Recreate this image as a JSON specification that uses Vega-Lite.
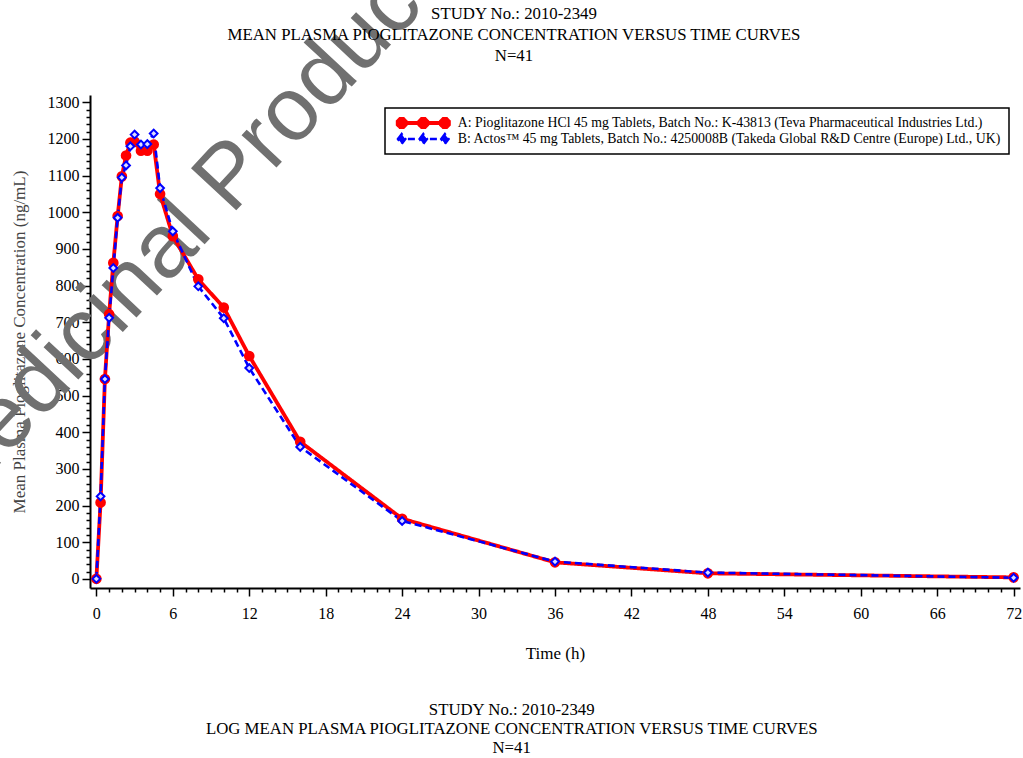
{
  "$schema": "https://vega.github.io/schema/vega-lite/v6.json",
  "width": 930,
  "height": 493,
  "autosize": {"type": "none"},
  "padding": {"left": 90, "top": 95, "right": 3, "bottom": 170},
  "background": "white",
  "config": {"view": {"stroke": null}, "font": "Liberation Serif"},
  "datasets": {
    "pk": [
      {"treatment": "A: Pioglitazone HCl 45 mg Tablets, Batch No.: K-43813 (Teva Pharmaceutical Industries Ltd.)", "time": 0, "conc": 0},
      {"treatment": "A: Pioglitazone HCl 45 mg Tablets, Batch No.: K-43813 (Teva Pharmaceutical Industries Ltd.)", "time": 0.33, "conc": 208},
      {"treatment": "A: Pioglitazone HCl 45 mg Tablets, Batch No.: K-43813 (Teva Pharmaceutical Industries Ltd.)", "time": 0.67, "conc": 545},
      {"treatment": "A: Pioglitazone HCl 45 mg Tablets, Batch No.: K-43813 (Teva Pharmaceutical Industries Ltd.)", "time": 1, "conc": 722},
      {"treatment": "A: Pioglitazone HCl 45 mg Tablets, Batch No.: K-43813 (Teva Pharmaceutical Industries Ltd.)", "time": 1.33, "conc": 862},
      {"treatment": "A: Pioglitazone HCl 45 mg Tablets, Batch No.: K-43813 (Teva Pharmaceutical Industries Ltd.)", "time": 1.67, "conc": 990},
      {"treatment": "A: Pioglitazone HCl 45 mg Tablets, Batch No.: K-43813 (Teva Pharmaceutical Industries Ltd.)", "time": 2, "conc": 1098},
      {"treatment": "A: Pioglitazone HCl 45 mg Tablets, Batch No.: K-43813 (Teva Pharmaceutical Industries Ltd.)", "time": 2.33, "conc": 1155},
      {"treatment": "A: Pioglitazone HCl 45 mg Tablets, Batch No.: K-43813 (Teva Pharmaceutical Industries Ltd.)", "time": 2.67, "conc": 1190},
      {"treatment": "A: Pioglitazone HCl 45 mg Tablets, Batch No.: K-43813 (Teva Pharmaceutical Industries Ltd.)", "time": 3, "conc": 1192},
      {"treatment": "A: Pioglitazone HCl 45 mg Tablets, Batch No.: K-43813 (Teva Pharmaceutical Industries Ltd.)", "time": 3.5, "conc": 1168},
      {"treatment": "A: Pioglitazone HCl 45 mg Tablets, Batch No.: K-43813 (Teva Pharmaceutical Industries Ltd.)", "time": 4, "conc": 1168},
      {"treatment": "A: Pioglitazone HCl 45 mg Tablets, Batch No.: K-43813 (Teva Pharmaceutical Industries Ltd.)", "time": 4.5, "conc": 1185},
      {"treatment": "A: Pioglitazone HCl 45 mg Tablets, Batch No.: K-43813 (Teva Pharmaceutical Industries Ltd.)", "time": 5, "conc": 1050},
      {"treatment": "A: Pioglitazone HCl 45 mg Tablets, Batch No.: K-43813 (Teva Pharmaceutical Industries Ltd.)", "time": 6, "conc": 935},
      {"treatment": "A: Pioglitazone HCl 45 mg Tablets, Batch No.: K-43813 (Teva Pharmaceutical Industries Ltd.)", "time": 8, "conc": 817},
      {"treatment": "A: Pioglitazone HCl 45 mg Tablets, Batch No.: K-43813 (Teva Pharmaceutical Industries Ltd.)", "time": 10, "conc": 740},
      {"treatment": "A: Pioglitazone HCl 45 mg Tablets, Batch No.: K-43813 (Teva Pharmaceutical Industries Ltd.)", "time": 12, "conc": 608},
      {"treatment": "A: Pioglitazone HCl 45 mg Tablets, Batch No.: K-43813 (Teva Pharmaceutical Industries Ltd.)", "time": 16, "conc": 374},
      {"treatment": "A: Pioglitazone HCl 45 mg Tablets, Batch No.: K-43813 (Teva Pharmaceutical Industries Ltd.)", "time": 24, "conc": 164},
      {"treatment": "A: Pioglitazone HCl 45 mg Tablets, Batch No.: K-43813 (Teva Pharmaceutical Industries Ltd.)", "time": 36, "conc": 45},
      {"treatment": "A: Pioglitazone HCl 45 mg Tablets, Batch No.: K-43813 (Teva Pharmaceutical Industries Ltd.)", "time": 48, "conc": 15},
      {"treatment": "A: Pioglitazone HCl 45 mg Tablets, Batch No.: K-43813 (Teva Pharmaceutical Industries Ltd.)", "time": 72, "conc": 4},
      {"treatment": "B: Actos™ 45 mg Tablets, Batch No.: 4250008B (Takeda Global R&D Centre (Europe) Ltd., UK)", "time": 0, "conc": 0},
      {"treatment": "B: Actos™ 45 mg Tablets, Batch No.: 4250008B (Takeda Global R&D Centre (Europe) Ltd., UK)", "time": 0.33, "conc": 225},
      {"treatment": "B: Actos™ 45 mg Tablets, Batch No.: 4250008B (Takeda Global R&D Centre (Europe) Ltd., UK)", "time": 0.67, "conc": 545},
      {"treatment": "B: Actos™ 45 mg Tablets, Batch No.: 4250008B (Takeda Global R&D Centre (Europe) Ltd., UK)", "time": 1, "conc": 712},
      {"treatment": "B: Actos™ 45 mg Tablets, Batch No.: 4250008B (Takeda Global R&D Centre (Europe) Ltd., UK)", "time": 1.33, "conc": 848},
      {"treatment": "B: Actos™ 45 mg Tablets, Batch No.: 4250008B (Takeda Global R&D Centre (Europe) Ltd., UK)", "time": 1.67, "conc": 985},
      {"treatment": "B: Actos™ 45 mg Tablets, Batch No.: 4250008B (Takeda Global R&D Centre (Europe) Ltd., UK)", "time": 2, "conc": 1095},
      {"treatment": "B: Actos™ 45 mg Tablets, Batch No.: 4250008B (Takeda Global R&D Centre (Europe) Ltd., UK)", "time": 2.33, "conc": 1128},
      {"treatment": "B: Actos™ 45 mg Tablets, Batch No.: 4250008B (Takeda Global R&D Centre (Europe) Ltd., UK)", "time": 2.67, "conc": 1180},
      {"treatment": "B: Actos™ 45 mg Tablets, Batch No.: 4250008B (Takeda Global R&D Centre (Europe) Ltd., UK)", "time": 3, "conc": 1212},
      {"treatment": "B: Actos™ 45 mg Tablets, Batch No.: 4250008B (Takeda Global R&D Centre (Europe) Ltd., UK)", "time": 3.5, "conc": 1185},
      {"treatment": "B: Actos™ 45 mg Tablets, Batch No.: 4250008B (Takeda Global R&D Centre (Europe) Ltd., UK)", "time": 4, "conc": 1186},
      {"treatment": "B: Actos™ 45 mg Tablets, Batch No.: 4250008B (Takeda Global R&D Centre (Europe) Ltd., UK)", "time": 4.5, "conc": 1215},
      {"treatment": "B: Actos™ 45 mg Tablets, Batch No.: 4250008B (Takeda Global R&D Centre (Europe) Ltd., UK)", "time": 5, "conc": 1066},
      {"treatment": "B: Actos™ 45 mg Tablets, Batch No.: 4250008B (Takeda Global R&D Centre (Europe) Ltd., UK)", "time": 6, "conc": 948},
      {"treatment": "B: Actos™ 45 mg Tablets, Batch No.: 4250008B (Takeda Global R&D Centre (Europe) Ltd., UK)", "time": 8, "conc": 798},
      {"treatment": "B: Actos™ 45 mg Tablets, Batch No.: 4250008B (Takeda Global R&D Centre (Europe) Ltd., UK)", "time": 10, "conc": 711},
      {"treatment": "B: Actos™ 45 mg Tablets, Batch No.: 4250008B (Takeda Global R&D Centre (Europe) Ltd., UK)", "time": 12, "conc": 575},
      {"treatment": "B: Actos™ 45 mg Tablets, Batch No.: 4250008B (Takeda Global R&D Centre (Europe) Ltd., UK)", "time": 16, "conc": 360},
      {"treatment": "B: Actos™ 45 mg Tablets, Batch No.: 4250008B (Takeda Global R&D Centre (Europe) Ltd., UK)", "time": 24, "conc": 158},
      {"treatment": "B: Actos™ 45 mg Tablets, Batch No.: 4250008B (Takeda Global R&D Centre (Europe) Ltd., UK)", "time": 36, "conc": 47},
      {"treatment": "B: Actos™ 45 mg Tablets, Batch No.: 4250008B (Takeda Global R&D Centre (Europe) Ltd., UK)", "time": 48, "conc": 17},
      {"treatment": "B: Actos™ 45 mg Tablets, Batch No.: 4250008B (Takeda Global R&D Centre (Europe) Ltd., UK)", "time": 72, "conc": 3}
    ],
    "notes": [
      {"header": ["STUDY No.: 2010-2349", "MEAN PLASMA PIOGLITAZONE CONCENTRATION VERSUS TIME CURVES", "N=41"],
       "footer": ["STUDY No.: 2010-2349", "LOG MEAN PLASMA PIOGLITAZONE CONCENTRATION VERSUS TIME CURVES", "N=41"],
       "mark": "Medicinal Product no longer authorised"}
    ]
  },
  "layer": [
    {
      "data": {"name": "notes"},
      "mark": {"type": "text", "align": "left", "baseline": "alphabetic", "angle": -47, "font": "Liberation Sans", "fontSize": 90, "color": "#707070"},
      "encoding": {
        "x": {
          "datum": -11.1, "type": "quantitative",
          "scale": {"domain": [-0.5, 72.5], "nice": false, "zero": false},
          "axis": {
            "title": "Time (h)",
            "values": [0,1,2,3,4,5,6,7,8,9,10,11,12,13,14,15,16,17,18,19,20,21,22,23,24,25,26,27,28,29,30,31,32,33,34,35,36,37,38,39,40,41,42,43,44,45,46,47,48,49,50,51,52,53,54,55,56,57,58,59,60,61,62,63,64,65,66,67,68,69,70,71,72],
            "labelExpr": "datum.value % 6 === 0 ? datum.label : ''",
            "tickSize": {"condition": {"test": "datum.value % 6 === 0", "value": 8}, "value": 4},
            "grid": false, "domainColor": "black", "domainWidth": 2, "tickColor": "black", "tickWidth": 1.5,
            "labelFont": "Liberation Serif", "labelFontSize": 16, "labelColor": "black", "labelPadding": 9,
            "labelOverlap": false, "labelFlush": false,
            "titleFont": "Liberation Serif", "titleFontSize": 17, "titleFontWeight": "normal", "titleColor": "black", "titlePadding": 24
          }
        },
        "y": {
          "datum": 182, "type": "quantitative",
          "scale": {"domain": [-25, 1320], "nice": false, "zero": false},
          "axis": {
            "title": "Mean Plasma Pioglitazone Concentration (ng/mL)",
            "values": [0,20,40,60,80,100,120,140,160,180,200,220,240,260,280,300,320,340,360,380,400,420,440,460,480,500,520,540,560,580,600,620,640,660,680,700,720,740,760,780,800,820,840,860,880,900,920,940,960,980,1000,1020,1040,1060,1080,1100,1120,1140,1160,1180,1200,1220,1240,1260,1280,1300],
            "labelExpr": "datum.value % 100 === 0 ? datum.label : ''",
            "format": "d",
            "tickSize": {"condition": {"test": "datum.value % 100 === 0", "value": 8}, "value": 4},
            "grid": false, "domainColor": "black", "domainWidth": 2, "tickColor": "black", "tickWidth": 1.5,
            "labelFont": "Liberation Serif", "labelFontSize": 16, "labelColor": "black", "labelPadding": 3,
            "labelOverlap": false, "labelFlush": false,
            "titleFont": "Liberation Serif", "titleFontSize": 17, "titleFontWeight": "normal", "titleColor": "#444444", "titlePadding": 19
          }
        },
        "text": {"field": "mark"}
      }
    },
    {
      "encoding": {
        "x": {
          "field": "time", "type": "quantitative",
          "scale": {"domain": [-0.5, 72.5], "nice": false, "zero": false},
          "axis": {
            "title": "Time (h)",
            "values": [0,1,2,3,4,5,6,7,8,9,10,11,12,13,14,15,16,17,18,19,20,21,22,23,24,25,26,27,28,29,30,31,32,33,34,35,36,37,38,39,40,41,42,43,44,45,46,47,48,49,50,51,52,53,54,55,56,57,58,59,60,61,62,63,64,65,66,67,68,69,70,71,72],
            "labelExpr": "datum.value % 6 === 0 ? datum.label : ''",
            "tickSize": {"condition": {"test": "datum.value % 6 === 0", "value": 8}, "value": 4},
            "grid": false, "domainColor": "black", "domainWidth": 2, "tickColor": "black", "tickWidth": 1.5,
            "labelFont": "Liberation Serif", "labelFontSize": 16, "labelColor": "black", "labelPadding": 9,
            "labelOverlap": false, "labelFlush": false,
            "titleFont": "Liberation Serif", "titleFontSize": 17, "titleFontWeight": "normal", "titleColor": "black", "titlePadding": 24
          }
        },
        "y": {
          "field": "conc", "type": "quantitative",
          "scale": {"domain": [-25, 1320], "nice": false, "zero": false},
          "axis": {
            "title": "Mean Plasma Pioglitazone Concentration (ng/mL)",
            "values": [0,20,40,60,80,100,120,140,160,180,200,220,240,260,280,300,320,340,360,380,400,420,440,460,480,500,520,540,560,580,600,620,640,660,680,700,720,740,760,780,800,820,840,860,880,900,920,940,960,980,1000,1020,1040,1060,1080,1100,1120,1140,1160,1180,1200,1220,1240,1260,1280,1300],
            "labelExpr": "datum.value % 100 === 0 ? datum.label : ''",
            "format": "d",
            "tickSize": {"condition": {"test": "datum.value % 100 === 0", "value": 8}, "value": 4},
            "grid": false, "domainColor": "black", "domainWidth": 2, "tickColor": "black", "tickWidth": 1.5,
            "labelFont": "Liberation Serif", "labelFontSize": 16, "labelColor": "black", "labelPadding": 3,
            "labelOverlap": false, "labelFlush": false,
            "titleFont": "Liberation Serif", "titleFontSize": 17, "titleFontWeight": "normal", "titleColor": "#444444", "titlePadding": 19
          }
        }
      },
      "layer": [
        {
          "data": {"name": "pk"},
          "mark": {"type": "line"},
          "encoding": {
            "color": {
              "field": "treatment", "type": "nominal",
              "scale": {"range": ["#ff0000", "#0000ff"]},
              "legend": {
                "title": null, "orient": "none", "legendX": 295, "legendY": 13, "padding": 7,
                "strokeColor": "black", "fillColor": "white",
                "labelFont": "Liberation Serif", "labelFontSize": 13.8, "labelColor": "black", "labelLimit": 800,
                "symbolSize": 16, "rowPadding": 0, "labelOffset": 52, "clipHeight": 16,
                "encode": {
                  "legend": {"update": {"strokeWidth": {"value": 1.5}}},
                  "symbols": {"update": {
                    "shape": {"signal": "datum.value < 'B' ? 'M-1,0L25.5,0M3.4,-0.828L3.4,0.828L2.228,2L0.572,2L-0.6,0.828L-0.6,-0.828L0.572,-2L2.228,-2ZM14.2,-0.828L14.2,0.828L13.028,2L11.372,2L10.2,0.828L10.2,-0.828L11.372,-2L13.028,-2ZM25,-0.828L25,0.828L23.828,2L22.172,2L21,0.828L21,-0.828L22.172,-2L23.828,-2Z' : 'M-1,0L25.5,0M-0.4,0L1.4,-2.4L3.2,0L1.4,2.4ZM10.4,0L12.2,-2.4L14,0L12.2,2.4ZM21.2,0L23,-2.4L24.8,0L23,2.4Z'"},
                    "fill": {"signal": "datum.value < 'B' ? '#ff0000' : '#0000ff'"},
                    "stroke": {"signal": "datum.value < 'B' ? '#ff0000' : '#0000ff'"},
                    "strokeDash": {"signal": "datum.value < 'B' ? [1,0] : [5,3]"},
                    "strokeWidth": {"value": 3},
                    "size": {"value": 16},
                    "opacity": {"value": 1}
                  }}
                }
              }
            },
            "strokeDash": {"field": "treatment", "type": "nominal", "scale": {"range": [[1, 0], [7, 4]]}, "legend": null},
            "strokeWidth": {"field": "treatment", "type": "nominal", "scale": {"range": [3.8, 2.6]}, "legend": null}
          }
        },
        {
          "data": {"name": "pk"},
          "mark": {"type": "point", "filled": true, "strokeWidth": 2, "opacity": 1},
          "encoding": {
            "stroke": {"field": "treatment", "type": "nominal", "scale": {"range": ["#ff0000", "#0000ff"]}, "legend": null},
            "fill": {"field": "treatment", "type": "nominal", "scale": {"range": ["#ff0000", "#dcdcff"]}, "legend": null},
            "shape": {"field": "treatment", "type": "nominal", "scale": {"range": ["circle", "diamond"]}, "legend": null},
            "size": {"field": "treatment", "type": "nominal", "scale": {"range": [75, 60]}, "legend": null}
          }
        }
      ]
    },
    {
      "data": {"name": "notes"},
      "mark": {"type": "text", "align": "center", "baseline": "alphabetic", "lineHeight": 21, "font": "Liberation Serif", "fontSize": 16.8, "color": "black"},
      "encoding": {
        "x": {
          "datum": 32.78, "type": "quantitative",
          "scale": {"domain": [-0.5, 72.5], "nice": false, "zero": false},
          "axis": {
            "title": "Time (h)",
            "values": [0,1,2,3,4,5,6,7,8,9,10,11,12,13,14,15,16,17,18,19,20,21,22,23,24,25,26,27,28,29,30,31,32,33,34,35,36,37,38,39,40,41,42,43,44,45,46,47,48,49,50,51,52,53,54,55,56,57,58,59,60,61,62,63,64,65,66,67,68,69,70,71,72],
            "labelExpr": "datum.value % 6 === 0 ? datum.label : ''",
            "tickSize": {"condition": {"test": "datum.value % 6 === 0", "value": 8}, "value": 4},
            "grid": false, "domainColor": "black", "domainWidth": 2, "tickColor": "black", "tickWidth": 1.5,
            "labelFont": "Liberation Serif", "labelFontSize": 16, "labelColor": "black", "labelPadding": 9,
            "labelOverlap": false, "labelFlush": false,
            "titleFont": "Liberation Serif", "titleFontSize": 17, "titleFontWeight": "normal", "titleColor": "black", "titlePadding": 24
          }
        },
        "y": {
          "datum": 1527, "type": "quantitative",
          "scale": {"domain": [-25, 1320], "nice": false, "zero": false},
          "axis": {
            "title": "Mean Plasma Pioglitazone Concentration (ng/mL)",
            "values": [0,20,40,60,80,100,120,140,160,180,200,220,240,260,280,300,320,340,360,380,400,420,440,460,480,500,520,540,560,580,600,620,640,660,680,700,720,740,760,780,800,820,840,860,880,900,920,940,960,980,1000,1020,1040,1060,1080,1100,1120,1140,1160,1180,1200,1220,1240,1260,1280,1300],
            "labelExpr": "datum.value % 100 === 0 ? datum.label : ''",
            "format": "d",
            "tickSize": {"condition": {"test": "datum.value % 100 === 0", "value": 8}, "value": 4},
            "grid": false, "domainColor": "black", "domainWidth": 2, "tickColor": "black", "tickWidth": 1.5,
            "labelFont": "Liberation Serif", "labelFontSize": 16, "labelColor": "black", "labelPadding": 3,
            "labelOverlap": false, "labelFlush": false,
            "titleFont": "Liberation Serif", "titleFontSize": 17, "titleFontWeight": "normal", "titleColor": "#444444", "titlePadding": 19
          }
        },
        "text": {"field": "header"}
      }
    },
    {
      "data": {"name": "notes"},
      "mark": {"type": "text", "align": "center", "baseline": "alphabetic", "lineHeight": 19, "font": "Liberation Serif", "fontSize": 16.8, "color": "black"},
      "encoding": {
        "x": {
          "datum": 32.6, "type": "quantitative",
          "scale": {"domain": [-0.5, 72.5], "nice": false, "zero": false},
          "axis": {
            "title": "Time (h)",
            "values": [0,1,2,3,4,5,6,7,8,9,10,11,12,13,14,15,16,17,18,19,20,21,22,23,24,25,26,27,28,29,30,31,32,33,34,35,36,37,38,39,40,41,42,43,44,45,46,47,48,49,50,51,52,53,54,55,56,57,58,59,60,61,62,63,64,65,66,67,68,69,70,71,72],
            "labelExpr": "datum.value % 6 === 0 ? datum.label : ''",
            "tickSize": {"condition": {"test": "datum.value % 6 === 0", "value": 8}, "value": 4},
            "grid": false, "domainColor": "black", "domainWidth": 2, "tickColor": "black", "tickWidth": 1.5,
            "labelFont": "Liberation Serif", "labelFontSize": 16, "labelColor": "black", "labelPadding": 9,
            "labelOverlap": false, "labelFlush": false,
            "titleFont": "Liberation Serif", "titleFontSize": 17, "titleFontWeight": "normal", "titleColor": "black", "titlePadding": 24
          }
        },
        "y": {
          "datum": -371, "type": "quantitative",
          "scale": {"domain": [-25, 1320], "nice": false, "zero": false},
          "axis": {
            "title": "Mean Plasma Pioglitazone Concentration (ng/mL)",
            "values": [0,20,40,60,80,100,120,140,160,180,200,220,240,260,280,300,320,340,360,380,400,420,440,460,480,500,520,540,560,580,600,620,640,660,680,700,720,740,760,780,800,820,840,860,880,900,920,940,960,980,1000,1020,1040,1060,1080,1100,1120,1140,1160,1180,1200,1220,1240,1260,1280,1300],
            "labelExpr": "datum.value % 100 === 0 ? datum.label : ''",
            "format": "d",
            "tickSize": {"condition": {"test": "datum.value % 100 === 0", "value": 8}, "value": 4},
            "grid": false, "domainColor": "black", "domainWidth": 2, "tickColor": "black", "tickWidth": 1.5,
            "labelFont": "Liberation Serif", "labelFontSize": 16, "labelColor": "black", "labelPadding": 3,
            "labelOverlap": false, "labelFlush": false,
            "titleFont": "Liberation Serif", "titleFontSize": 17, "titleFontWeight": "normal", "titleColor": "#444444", "titlePadding": 19
          }
        },
        "text": {"field": "footer"}
      }
    }
  ]
}
